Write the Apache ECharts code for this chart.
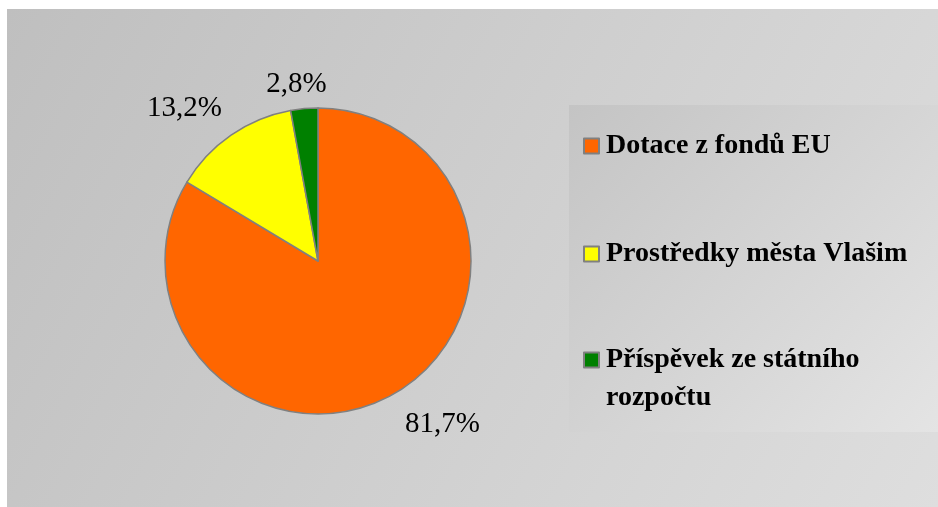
<!DOCTYPE html>
<html lang="cs">
<head>
	<meta charset="UTF-8">
	<title>pie</title>
	<style type="text/css">
	body,html{
		width: 100%;
		height: 100%;
		margin: 0;
		padding: 0;
		background: #fff;
	}
	#chart{
		width: 938px;
		height: 507px;
	}
	</style>
</head>
<body>
	<div id="chart"></div>
<script type="text/javascript" src="https://cdn.jsdelivr.net/npm/echarts@6/dist/echarts.min.js"></script>
<script type="text/javascript">
	// data
	var categories = ['Dotace z fondů EU', 'Prostředky města Vlašim', 'Příspěvek ze státního rozpočtu'];
	var shares = [81.7, 13.2, 2.8];
	var colors = ['#FF6600', '#FFFF00', '#008000'];
	// legend text with line breaks as in the picture
	var legendText = ['Dotace z fondů EU', 'Prostředky města Vlašim', '\nPříspěvek ze státního\nrozpočtu'];
	// small nudges for the percent labels
	var labelNudge = [[-8, 4], [13, -2], [30, 6]];

	var pieData = categories.map(function (name, i) {
		return {
			name: name,
			value: shares[i],
			itemStyle: { color: colors[i] }
		};
	});

	function legendFor(i, top) {
		return {
			data: [categories[i]],
			left: 583,
			top: top,
			padding: 0,
			orient: 'vertical',
			icon: 'rect',
			itemWidth: 15,
			itemHeight: 15,
			itemGap: 0,
			selectedMode: false,
			formatter: function () { return legendText[i]; },
			textStyle: {
				fontFamily: 'Liberation Serif',
				fontWeight: 'bold',
				fontSize: 28,
				lineHeight: i == 2 ? 38 : 30,
				color: '#000',
				padding: [0, 0, 0, 2]
			}
		};
	}

	var option = {
		animation: false,
		graphic: [{
			type: 'rect',
			shape: { x: 7, y: 9, width: 931, height: 498 },
			style: {
				fill: new echarts.graphic.LinearGradient(0, 0, 1, 1, [
					{ offset: 0, color: '#bfbfbf' },
					{ offset: 1, color: '#dedede' }
				])
			},
			z: -10
		}, {
			type: 'rect',
			shape: { x: 569, y: 105, width: 369, height: 327 },
			style: {
				fill: new echarts.graphic.LinearGradient(0, 0, 1, 1, [
					{ offset: 0, color: '#c4c4c4' },
					{ offset: 1, color: '#e4e4e4' }
				])
			},
			z: -9
		}],
		legend: [legendFor(0, 131), legendFor(1, 239), legendFor(2, 303)],
		series: [{
			type: 'pie',
			center: [318, 261],
			radius: 153,
			startAngle: 90,
			clockwise: true,
			avoidLabelOverlap: false,
			itemStyle: {
				borderColor: '#808080',
				borderWidth: 1.5
			},
			label: {
				show: true,
				position: 'outside',
				fontFamily: 'Liberation Serif',
				fontSize: 29,
				color: '#000',
				formatter: function (p) {
					return p.value.toFixed(1).replace('.', ',') + '%';
				}
			},
			labelLine: {
				show: false,
				length: 30,
				length2: 0
			},
			labelLayout: function (p) {
				return { dx: labelNudge[p.dataIndex][0], dy: labelNudge[p.dataIndex][1] };
			},
			emphasis: { disabled: true },
			data: pieData
		}]
	};
	var chart = echarts.init(document.getElementById('chart'));
	chart.setOption(option, true);
</script>
</body>
</html>
